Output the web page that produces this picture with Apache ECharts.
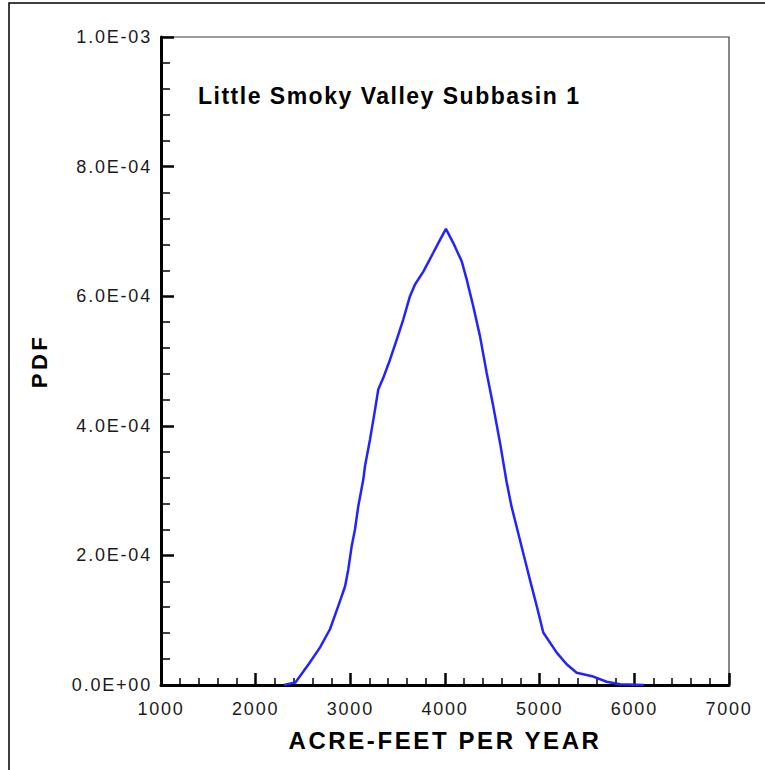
<!DOCTYPE html>
<html>
<head>
<meta charset="utf-8">
<title>Little Smoky Valley Subbasin 1</title>
<script src="https://cdn.jsdelivr.net/npm/echarts@6/dist/echarts.min.js"></script>
<style>
  html, body { margin: 0; padding: 0; background: #ffffff; }
  #chart { width: 765px; height: 770px; }
  /* wide, bitmap-style tracking for the chart lettering */
  #chart text[style*="18px"] { letter-spacing: 1.8px; }
  #chart text[style*="23px"] { letter-spacing: 1.5px; }
  #chart text[style*="24px"] { letter-spacing: 2.6px; }
  #chart text[style*="22px"] { letter-spacing: 3.5px; }
</style>
</head>
<body>
<div id="chart"></div>
<script>
// Recharge estimate distribution, acre-feet per year vs probability density
const acreFeet = [
  2300, 2420, 2500, 2574, 2680, 2785, 2873, 2944, 2978, 3014,
  3049, 3084, 3137, 3155, 3208, 3261, 3295, 3348, 3419, 3490,
  3559, 3630, 3683, 3771, 3876, 3947, 4010, 4088, 4176, 4229,
  4299, 4370, 4440, 4510, 4581, 4650, 4702, 4764, 4834, 4905,
  4969, 5038, 5180, 5285, 5391, 5566, 5708, 5850, 6100
];
const pdfValues = [
  0.0, 4.0e-6, 2.0e-5, 3.5e-5, 5.8e-5, 8.6e-5, 1.22e-4, 1.52e-4, 1.78e-4, 2.14e-4,
  2.40e-4, 2.76e-4, 3.17e-4, 3.38e-4, 3.79e-4, 4.25e-4, 4.56e-4, 4.74e-4, 5.02e-4, 5.33e-4,
  5.64e-4, 6.00e-4, 6.18e-4, 6.38e-4, 6.67e-4, 6.87e-4, 7.04e-4, 6.82e-4, 6.54e-4, 6.26e-4,
  5.84e-4, 5.38e-4, 4.82e-4, 4.30e-4, 3.74e-4, 3.14e-4, 2.76e-4, 2.40e-4, 1.99e-4, 1.58e-4,
  1.22e-4, 8.1e-5, 5.0e-5, 3.2e-5, 1.9e-5, 1.3e-5, 5.0e-6, 1.0e-6, 0.0
];
const xTickLabels = ['1000', '2000', '3000', '4000', '5000', '6000', '7000'];
const yTickLabels = ['0.0E+00', '2.0E-04', '4.0E-04', '6.0E-04', '8.0E-04', '1.0E-03'];

const chartTitle = 'Little Smoky Valley Subbasin 1';
const xAxisTitle = 'ACRE-FEET PER YEAR';
const yAxisTitle = 'PDF';

const FONT = "'Liberation Sans', Arial, Helvetica, sans-serif";

const chart = echarts.init(document.getElementById('chart'), null, { renderer: 'svg' });

chart.setOption({
  backgroundColor: '#ffffff',
  animation: false,
  title: {
    text: chartTitle,
    left: 198,
    top: 84,
    padding: 0,
    textStyle: { fontFamily: FONT, fontSize: 23, fontWeight: 'bold', color: '#000000' }
  },
  graphic: [{
    type: 'polyline',
    shape: { points: [[9, 770], [9, 3], [765, 3]] },
    style: { stroke: '#000000', lineWidth: 1.5, fill: null },
    silent: true
  }],
  grid: {
    left: 161, right: 36, top: 37, bottom: 85,
    show: true,
    borderColor: '#3a3a3a',
    borderWidth: 1.2,
    backgroundColor: 'transparent'
  },
  xAxis: {
    type: 'value',
    min: 1000, max: 7000, interval: 1000,
    name: xAxisTitle,
    nameLocation: 'middle',
    nameGap: 43,
    nameTextStyle: { fontFamily: FONT, fontSize: 24, fontWeight: 'bold', color: '#000000' },
    axisLine: { show: true, onZero: false, lineStyle: { color: '#000000', width: 3 } },
    axisTick: { show: true, inside: true, length: 12, lineStyle: { color: '#000000', width: 2.5 } },
    minorTick: { show: true, splitNumber: 5, length: 7, lineStyle: { color: '#000000', width: 1.5 } },
    splitLine: { show: false },
    axisLabel: {
      margin: 15,
      fontFamily: FONT, fontSize: 18, color: '#1a1a1a',
      formatter: function (v) { return xTickLabels[Math.round((v - 1000) / 1000)]; }
    }
  },
  yAxis: {
    type: 'value',
    min: 0, max: 1e-3, interval: 2e-4,
    name: yAxisTitle,
    nameLocation: 'middle',
    nameGap: 111,
    nameRotate: 90,
    nameTextStyle: { fontFamily: FONT, fontSize: 22, fontWeight: 'bold', color: '#000000' },
    axisLine: { show: true, onZero: false, lineStyle: { color: '#000000', width: 3 } },
    axisTick: { show: true, inside: true, length: 13, lineStyle: { color: '#000000', width: 2.5 } },
    minorTick: { show: true, splitNumber: 5, length: 9, lineStyle: { color: '#000000', width: 1.5 } },
    splitLine: { show: false },
    axisLabel: {
      margin: 9,
      fontFamily: FONT, fontSize: 18, color: '#1a1a1a',
      formatter: function (v) { return yTickLabels[Math.round(v / 2e-4)]; }
    }
  },
  series: [{
    type: 'line',
    data: acreFeet.map(function (x, i) { return [x, pdfValues[i]]; }),
    showSymbol: false,
    smooth: false,
    lineStyle: { color: '#2323ff', width: 2.5 },
    itemStyle: { color: '#2323ff' }
  }]
});
</script>
</body>
</html>
